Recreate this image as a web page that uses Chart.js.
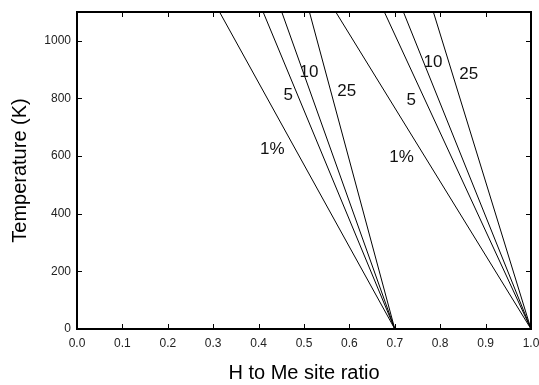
<!DOCTYPE html>
<html>
<head>
<meta charset="utf-8">
<script src="https://cdn.jsdelivr.net/npm/chart.js@4.4.1/dist/chart.umd.min.js"></script>
<style>
  html, body { margin: 0; padding: 0; background: #fff; }
  #wrap { width: 539px; height: 385px; }
</style>
</head>
<body>
<div id="wrap"><canvas id="chart" width="539" height="385"></canvas></div>
<script>
// Lignes iso-pourcentage : de (ratio au sommet, 1100 K) vers (ratio de base, 0 K)
const T_MAX = 1100;
const lineLabels = ["1%", "5", "10", "25"];

const baseA = 0.7;
const topA = [0.314, 0.410, 0.451, 0.512];
const baseB = 1.0;
const topB = [0.570, 0.677, 0.719, 0.785];

// Positions des étiquettes (ratio, température)
const labelXA = [0.430, 0.465, 0.511, 0.594];
const labelTA = [624, 810, 890, 824];
const labelXB = [0.715, 0.736, 0.784, 0.863];
const labelTB = [596, 793, 925, 883];

const xTicks = [0, 0.1, 0.2, 0.3, 0.4, 0.5, 0.6, 0.7, 0.8, 0.9, 1.0];
const yTicks = [0, 200, 400, 600, 800, 1000];

const FONT = "'Liberation Sans', Arial, sans-serif";

function makeLine(top, base) {
  return {
    data: [{ x: top, y: T_MAX }, { x: base, y: 0 }],
    showLine: true,
    borderColor: "#000",
    borderWidth: 1,
    pointRadius: 0,
    pointHoverRadius: 0,
    fill: false
  };
}

const datasets = [
  ...topA.map((t) => makeLine(t, baseA)),
  ...topB.map((t) => makeLine(t, baseB))
];

const framePlugin = {
  id: "frame",
  afterDatasetsDraw(chart) {
    const { ctx, chartArea: a, scales } = chart;
    const x = scales.x;
    const y = scales.y;
    const len = 5;

    ctx.save();
    ctx.strokeStyle = "#000";
    ctx.lineWidth = 1;
    ctx.beginPath();
    xTicks.forEach((v) => {
      const px = Math.round(x.getPixelForValue(v)) + 0.5;
      ctx.moveTo(px, a.bottom);
      ctx.lineTo(px, a.bottom - len);
      ctx.moveTo(px, a.top);
      ctx.lineTo(px, a.top + len);
    });
    yTicks.forEach((v) => {
      const py = Math.round(y.getPixelForValue(v)) + 0.5;
      ctx.moveTo(a.left, py);
      ctx.lineTo(a.left + len, py);
      ctx.moveTo(a.right, py);
      ctx.lineTo(a.right - len, py);
    });
    ctx.stroke();

    ctx.lineWidth = 2;
    ctx.strokeRect(a.left, a.top, a.right - a.left, a.bottom - a.top);

    ctx.fillStyle = "#111";
    ctx.font = `17px ${FONT}`;
    ctx.textAlign = "center";
    ctx.textBaseline = "middle";
    lineLabels.forEach((lbl, i) => {
      ctx.fillText(lbl, x.getPixelForValue(labelXA[i]), y.getPixelForValue(labelTA[i]));
      ctx.fillText(lbl, x.getPixelForValue(labelXB[i]), y.getPixelForValue(labelTB[i]));
    });
    ctx.restore();
  }
};

new Chart(document.querySelector("#chart"), {
  type: "scatter",
  data: { datasets },
  options: {
    responsive: false,
    animation: false,
    events: [],
    layout: { padding: { top: 12, right: 8, left: 0, bottom: 0 } },
    plugins: {
      legend: { display: false },
      tooltip: { enabled: false }
    },
    scales: {
      x: {
        type: "linear",
        min: 0,
        max: 1,
        afterBuildTicks: (scale) => {
          scale.ticks = xTicks.map((v) => ({ value: v }));
        },
        afterFit: (scale) => {
          scale.height = 56;
          scale.paddingLeft = 0;
          scale.paddingRight = 0;
        },
        grid: { display: false, drawTicks: false },
        border: { display: false },
        ticks: {
          padding: 7,
          color: "#222",
          font: { family: FONT, size: 12 },
          maxRotation: 0,
          autoSkip: false,
          callback: (v) => Number(v).toFixed(1)
        },
        title: {
          display: true,
          text: "H to Me site ratio",
          color: "#000",
          font: { family: FONT, size: 20 },
          padding: { top: 0, bottom: 0 }
        }
      },
      y: {
        type: "linear",
        min: 0,
        max: T_MAX,
        afterBuildTicks: (scale) => {
          scale.ticks = yTicks.map((v) => ({ value: v }));
        },
        afterFit: (scale) => {
          scale.width = 77;
          scale.paddingTop = 0;
          scale.paddingBottom = 0;
        },
        grid: { display: false, drawTicks: false },
        border: { display: false },
        ticks: {
          padding: 6,
          color: "#222",
          font: { family: FONT, size: 12 },
          autoSkip: false,
          callback: (v) => String(v)
        },
        title: {
          display: true,
          text: "Temperature (K)",
          color: "#000",
          font: { family: FONT, size: 20 },
          padding: { top: 8, bottom: 0 }
        }
      }
    }
  },
  plugins: [framePlugin]
});
</script>
</body>
</html>
